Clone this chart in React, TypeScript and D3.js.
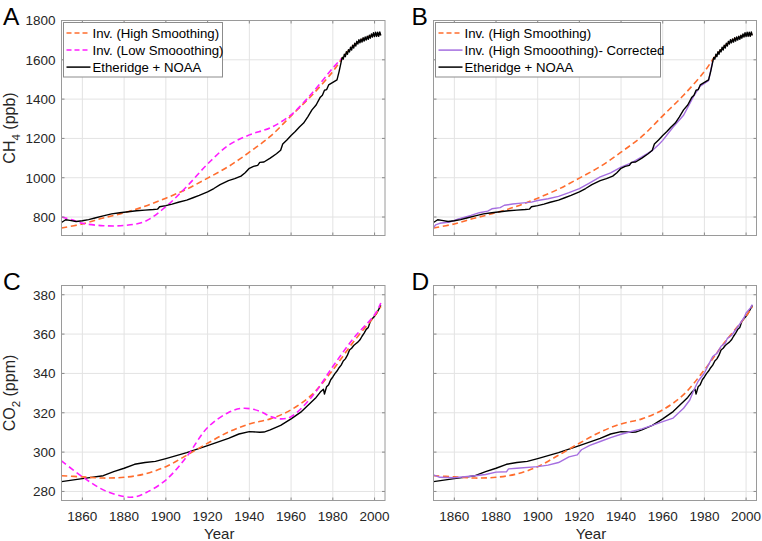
import React from 'react';
import * as d3 from 'd3';

// ---- data (years, values) ----
const xTicks = [1860, 1880, 1900, 1920, 1940, 1960, 1980, 2000];
const ch4Ticks = [800, 1000, 1200, 1400, 1600, 1800];
const co2Ticks = [280, 300, 320, 340, 360, 380];

// CH4 Etheridge ice core + NOAA (seasonal band after 1984)
const ch4Observed: [number, number][] = [
  [1850, 772], [1852, 786], [1854, 783], [1857, 777], [1860, 781], [1863, 787], [1866, 795],
  [1870, 806], [1874, 816], [1878, 822], [1882, 827], [1886, 832], [1890, 835], [1894, 838],
  [1896, 840], [1897, 852], [1900, 858], [1903, 866], [1906, 875], [1910, 886], [1913, 898],
  [1916, 910], [1920, 928], [1923, 945], [1926, 965], [1930, 985], [1933, 995], [1936, 1008],
  [1938, 1025], [1940, 1048], [1942, 1058], [1944, 1063], [1945, 1078], [1947, 1080],
  [1950, 1100], [1953, 1122], [1955, 1140], [1956, 1172], [1958, 1192], [1960, 1215],
  [1962, 1235], [1964, 1258], [1966, 1278], [1968, 1310], [1970, 1345], [1972, 1370],
  [1974, 1410], [1975, 1420], [1976, 1445], [1977, 1448], [1978, 1472], [1980, 1485],
  [1982, 1498], [1983, 1540],
  [1984.0, 1590], [1984.5, 1612], [1985.0, 1603], [1985.5, 1628], [1986.0, 1616], [1986.5, 1641],
  [1987.0, 1628], [1987.5, 1652], [1988.0, 1640], [1988.5, 1664], [1989.0, 1650], [1989.5, 1674],
  [1990.0, 1660], [1990.5, 1684], [1991.0, 1670], [1991.5, 1694], [1992.0, 1680], [1992.5, 1702],
  [1993.0, 1686], [1993.5, 1706], [1994.0, 1690], [1994.5, 1712], [1995.0, 1695], [1995.5, 1716],
  [1996.0, 1700], [1996.5, 1720], [1997.0, 1704], [1997.5, 1725], [1998.0, 1710], [1998.5, 1732],
  [1999.0, 1716], [1999.5, 1738], [2000.0, 1718], [2000.5, 1740], [2001.0, 1719], [2001.5, 1740],
  [2002.0, 1720], [2002.5, 1742], [2003.0, 1724]
];

const ch4HighSmooth: [number, number][] = [
  [1850, 744], [1860, 765], [1870, 795], [1880, 822], [1890, 855], [1900, 896], [1910, 942],
  [1920, 998], [1930, 1057], [1940, 1130], [1950, 1210], [1960, 1315], [1970, 1420],
  [1980, 1540], [1985, 1615], [1990, 1672], [1995, 1708], [2000, 1726], [2003, 1730]
];

const ch4LowSmooth: [number, number][] = [
  [1850, 800], [1855, 786], [1860, 768], [1870, 756], [1880, 757], [1890, 778], [1900, 853],
  [1910, 955], [1920, 1070], [1930, 1165], [1940, 1218], [1950, 1254], [1960, 1320],
  [1970, 1430], [1980, 1558], [1984, 1605]
];

const ch4Corrected: [number, number][] = [
  [1850, 745], [1851, 760], [1853, 768], [1858, 775], [1862, 790], [1868, 808], [1872, 822],
  [1876, 830], [1878, 842], [1882, 848], [1884, 860], [1888, 866], [1892, 871], [1897, 876],
  [1900, 884], [1905, 893], [1910, 905], [1915, 924], [1920, 945], [1925, 974], [1930, 1004],
  [1935, 1025], [1940, 1054], [1945, 1076], [1950, 1106], [1955, 1138], [1958, 1168],
  [1960, 1190], [1965, 1258], [1970, 1318], [1975, 1418], [1978, 1466], [1982, 1494],
  [1984, 1595]
];

// CO2
const co2Observed: [number, number][] = [
  [1850, 285], [1860, 286.5], [1870, 288], [1875, 290.1], [1880, 291.8], [1885, 293.8],
  [1890, 294.7], [1895, 295.3], [1900, 296.7], [1910, 299.7], [1920, 303.3], [1930, 307],
  [1935, 309.2], [1940, 310.4], [1945, 310.1], [1947, 310.2], [1950, 311.3], [1955, 313.6],
  [1960, 316.9], [1965, 320.6], [1970, 325.7], [1972, 327.8], [1974, 330.5], [1975.5, 332],
  [1976, 329.5], [1977, 333.2], [1978, 334.3], [1979, 336.8], [1980, 338.2], [1981, 339.9],
  [1982, 341.2], [1983, 342.9], [1984, 344.2], [1985, 346.3], [1986, 347.4], [1987, 349.3],
  [1988, 351.9], [1989, 352.8], [1990, 354.2], [1991, 355.1], [1992, 355.9], [1993, 357.1],
  [1994, 358.9], [1995, 360.5], [1996, 362.4], [1997, 363.4], [1998, 366.5], [1999, 367.9],
  [2000, 369.1], [2001, 370.6], [2002, 372.6], [2003, 374.6]
];

const co2HighSmooth: [number, number][] = [
  [1850, 288], [1860, 287.4], [1870, 286.8], [1880, 287.2], [1890, 288.9], [1900, 292.6],
  [1910, 298.4], [1920, 304.5], [1930, 310.2], [1940, 314.3], [1950, 316.9], [1960, 321.5],
  [1970, 329.2], [1980, 341.8], [1990, 356.2], [2000, 369.2], [2003, 374]
];

const co2LowSmooth: [number, number][] = [
  [1850, 295.5], [1860, 287.5], [1870, 280.8], [1880, 277.4], [1885, 277.2], [1890, 279.1],
  [1900, 285.8], [1910, 297.7], [1920, 312.5], [1930, 320.1], [1937, 322.3], [1945, 320.8],
  [1950, 318.2], [1955, 316.9], [1960, 318], [1970, 328.2], [1980, 343.5], [1990, 358],
  [2000, 369.8], [2003, 375.8]
];

const co2Corrected: [number, number][] = [
  [1850, 288.4], [1853, 287.2], [1860, 287], [1870, 288], [1875, 288.6], [1880, 289.8],
  [1885, 290], [1886, 291.5], [1890, 291.8], [1900, 292.6], [1905, 293.4], [1910, 294.7],
  [1915, 297.6], [1919, 298.6], [1921, 301.2], [1925, 303.4], [1930, 305.4], [1935, 307.4],
  [1940, 309.1], [1945, 310.5], [1950, 311.8], [1955, 313.6], [1960, 315.5], [1965, 317.3],
  [1970, 322.3], [1973, 326.5], [1975, 331.7], [1977, 336], [1980, 340.2], [1982, 344.5],
  [1984, 348.6], [1986, 350.2], [1988, 353.8], [1990, 355.4], [1991, 357.8], [1993, 359.3],
  [1995, 362.2], [1997, 365.2], [1999, 368.3], [2000, 370.7], [2002, 373.2], [2003, 375]
];

const ORANGE = '#ff6d2e';
const MAGENTA = '#ff1cff';
const PURPLE = '#a56ee0';
const BLACK = '#000000';
const FONT = '"Liberation Sans", Arial, Helvetica, sans-serif';

type Series = { data: [number, number][]; color: string; dash?: string; width: number; smooth?: boolean };
type LegendItem = { label: string; color: string; dash?: string };

function Panel({ left, top, right, bottom, yDomain, yTicks, letter, letterX, series, legend, legendWidth,
  showYLabels, yLabel, showXLabels }: {
  left: number; top: number; right: number; bottom: number; yDomain: [number, number];
  yTicks: number[]; letter: string; letterX: number; series: Series[]; legend?: LegendItem[];
  legendWidth?: number; showYLabels: boolean; yLabel?: [string, string, string]; showXLabels: boolean;
}) {
  const x = d3.scaleLinear().domain([1850, 2005]).range([left, right]);
  const y = d3.scaleLinear().domain(yDomain).range([bottom, top]);
  const clipId = 'clip-' + letter;
  const tickLen = 3;

  return (
    <g>
      <defs>
        <clipPath id={clipId}>
          <rect x={left} y={top} width={right - left} height={bottom - top} />
        </clipPath>
      </defs>
      <rect x={left} y={top} width={right - left} height={bottom - top} fill="#fff" />
      {/* grid */}
      {xTicks.map(t => (
        <line key={'gx' + t} x1={x(t)} x2={x(t)} y1={top} y2={bottom} stroke="#e3e3e3" strokeWidth={1} />
      ))}
      {yTicks.map(t => (
        <line key={'gy' + t} x1={left} x2={right} y1={y(t)} y2={y(t)} stroke="#e3e3e3" strokeWidth={1} />
      ))}
      {/* lines */}
      <g clipPath={`url(#${clipId})`}>
        {series.map((s, i) => {
          const line = d3.line<[number, number]>()
            .x(d => x(d[0]))
            .y(d => y(d[1]))
            .curve(s.smooth ? d3.curveCatmullRom : d3.curveLinear);
          return (
            <path key={i} d={line(s.data) || ''} fill="none" stroke={s.color} strokeWidth={s.width}
              strokeDasharray={s.dash} strokeLinejoin="round" />
          );
        })}
      </g>
      {/* ticks */}
      {xTicks.map(t => (
        <g key={'tx' + t}>
          <line x1={x(t)} x2={x(t)} y1={bottom} y2={bottom - tickLen} stroke="#8a8a8a" />
          <line x1={x(t)} x2={x(t)} y1={top} y2={top + tickLen} stroke="#8a8a8a" />
        </g>
      ))}
      {yTicks.map(t => (
        <g key={'ty' + t}>
          <line x1={left} x2={left + tickLen} y1={y(t)} y2={y(t)} stroke="#8a8a8a" />
          <line x1={right} x2={right - tickLen} y1={y(t)} y2={y(t)} stroke="#8a8a8a" />
        </g>
      ))}
      <rect x={left} y={top} width={right - left} height={bottom - top} fill="none" stroke="#9a9a9a" strokeWidth={1} />
      {/* tick labels */}
      {showXLabels && xTicks.map(t => (
        <text key={'lx' + t} x={x(t)} y={bottom + 20.5} textAnchor="middle" fontSize={13.5}
          fill="#262626" fontFamily={FONT}>{t}</text>
      ))}
      {showXLabels && (
        <text x={(left + right) / 2 - 4} y={539} textAnchor="middle" fontSize={15} fill="#262626"
          fontFamily={FONT}>Year</text>
      )}
      {showYLabels && yTicks.map(t => (
        <text key={'ly' + t} x={left - 6} y={y(t)} dy="0.36em" textAnchor="end" fontSize={13.5}
          fill="#262626" fontFamily={FONT}>{t}</text>
      ))}
      {yLabel && (
        <text transform={`translate(${left - 46.5},${(top + bottom) / 2}) rotate(-90)`} textAnchor="middle"
          fontSize={16} fill="#262626" fontFamily={FONT}>
          {yLabel[0]}
          <tspan fontSize={11.5} dy={4.5}>{yLabel[1]}</tspan>
          <tspan dy={-4.5}>{yLabel[2]}</tspan>
        </text>
      )}
      {/* panel letter */}
      <text x={letterX} y={top + 4} fontSize={24.5} fill="#000" fontFamily={FONT}>{letter}</text>
      {/* legend */}
      {legend && (
        <g>
          <rect x={left + 2} y={top + 2} width={legendWidth} height={54.5} fill="#fff" stroke="#8c8c8c" strokeWidth={1} />
          {legend.map((item, i) => {
            const ly = top + 12.6 + i * 17;
            return (
              <g key={item.label}>
                <line x1={left + 5} x2={left + 29} y1={ly} y2={ly} stroke={item.color} strokeWidth={1.5}
                  strokeDasharray={item.dash} />
                <text x={left + 31} y={ly} dy="0.36em" fontSize={13.2} fill="#000" fontFamily={FONT}>{item.label}</text>
              </g>
            );
          })}
        </g>
      )}
    </g>
  );
}

export default function App() {
  const dash = '6,3.5';
  const L1 = 61.5, R1 = 385, L2 = 433.5, R2 = 756.5;
  const T1 = 20.5, B1 = 235.5, T2 = 285.5, B2 = 500.5;

  return (
    <div style={{ position: 'absolute', left: 0, top: 0 }}>
      <svg width={762} height={541} style={{ display: 'block', background: '#fff' }}>
        <Panel left={L1} top={T1} right={R1} bottom={B1} yDomain={[706, 1800]} yTicks={ch4Ticks}
          letter="A" letterX={3} showYLabels yLabel={['CH', '4', ' (ppb)']} showXLabels={false}
          series={[
            { data: ch4HighSmooth, color: ORANGE, dash, width: 1.6, smooth: true },
            { data: ch4LowSmooth, color: MAGENTA, dash, width: 1.6, smooth: true },
            { data: ch4Observed, color: BLACK, width: 1.4 }
          ]}
          legendWidth={159}
          legend={[
            { label: 'Inv. (High Smoothing)', color: ORANGE, dash: '5,3' },
            { label: 'Inv. (Low Smooothing)', color: MAGENTA, dash: '5,3' },
            { label: 'Etheridge + NOAA', color: BLACK }
          ]} />
        <Panel left={L2} top={T1} right={R2} bottom={B1} yDomain={[706, 1800]} yTicks={ch4Ticks}
          letter="B" letterX={411.5} showYLabels={false} showXLabels={false}
          series={[
            { data: ch4HighSmooth, color: ORANGE, dash, width: 1.6, smooth: true },
            { data: ch4Corrected, color: PURPLE, width: 1.4 },
            { data: ch4Observed, color: BLACK, width: 1.4 }
          ]}
          legendWidth={225}
          legend={[
            { label: 'Inv. (High Smoothing)', color: ORANGE, dash: '5,3' },
            { label: 'Inv. (High Smooothing)- Corrected', color: PURPLE },
            { label: 'Etheridge + NOAA', color: BLACK }
          ]} />
        <Panel left={L1} top={T2} right={R1} bottom={B2} yDomain={[275.4, 384.7]} yTicks={co2Ticks}
          letter="C" letterX={3} showYLabels yLabel={['CO', '2', ' (ppm)']} showXLabels
          series={[
            { data: co2Observed, color: BLACK, width: 1.4 },
            { data: co2HighSmooth, color: ORANGE, dash, width: 1.6, smooth: true },
            { data: co2LowSmooth, color: MAGENTA, dash, width: 1.6, smooth: true }
          ]} />
        <Panel left={L2} top={T2} right={R2} bottom={B2} yDomain={[275.4, 384.7]} yTicks={co2Ticks}
          letter="D" letterX={411.5} showYLabels={false} showXLabels
          series={[
            { data: co2Observed, color: BLACK, width: 1.4 },
            { data: co2HighSmooth, color: ORANGE, dash, width: 1.6, smooth: true },
            { data: co2Corrected, color: PURPLE, width: 1.4 }
          ]} />
      </svg>
    </div>
  );
}
